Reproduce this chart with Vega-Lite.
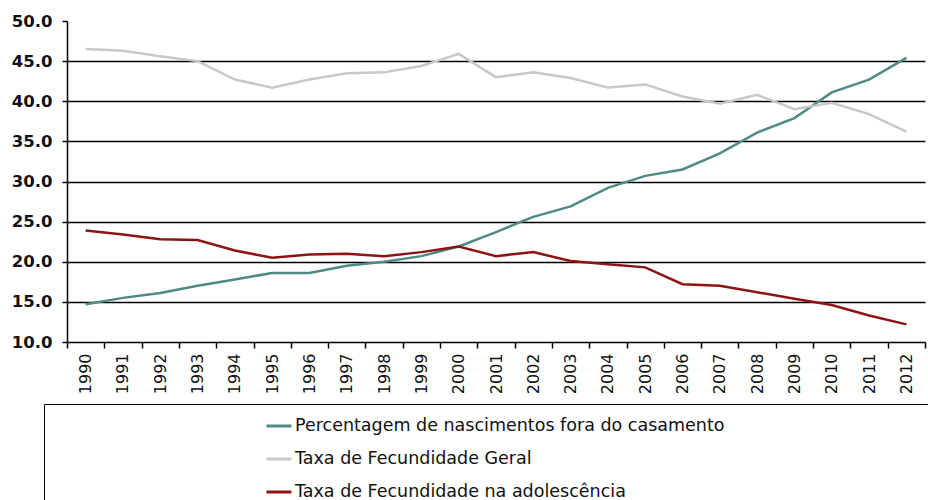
{
  "$schema": "https://vega.github.io/schema/vega-lite/v6.json",
  "width": 858,
  "height": 321,
  "autosize": {"type": "none"},
  "padding": {"left": 67, "top": 21, "right": 3, "bottom": 158},
  "background": "white",
  "config": {"view": {"stroke": null}, "font": "DejaVu Sans"},
  "datasets": {
    "d": [
      {"ano": "1990", "serie": "Percentagem de nascimentos fora do casamento", "valor": 14.7},
      {"ano": "1991", "serie": "Percentagem de nascimentos fora do casamento", "valor": 15.5},
      {"ano": "1992", "serie": "Percentagem de nascimentos fora do casamento", "valor": 16.1},
      {"ano": "1993", "serie": "Percentagem de nascimentos fora do casamento", "valor": 17.0},
      {"ano": "1994", "serie": "Percentagem de nascimentos fora do casamento", "valor": 17.8},
      {"ano": "1995", "serie": "Percentagem de nascimentos fora do casamento", "valor": 18.6},
      {"ano": "1996", "serie": "Percentagem de nascimentos fora do casamento", "valor": 18.6},
      {"ano": "1997", "serie": "Percentagem de nascimentos fora do casamento", "valor": 19.5},
      {"ano": "1998", "serie": "Percentagem de nascimentos fora do casamento", "valor": 20.0},
      {"ano": "1999", "serie": "Percentagem de nascimentos fora do casamento", "valor": 20.7},
      {"ano": "2000", "serie": "Percentagem de nascimentos fora do casamento", "valor": 21.9},
      {"ano": "2001", "serie": "Percentagem de nascimentos fora do casamento", "valor": 23.7},
      {"ano": "2002", "serie": "Percentagem de nascimentos fora do casamento", "valor": 25.6},
      {"ano": "2003", "serie": "Percentagem de nascimentos fora do casamento", "valor": 26.9},
      {"ano": "2004", "serie": "Percentagem de nascimentos fora do casamento", "valor": 29.2},
      {"ano": "2005", "serie": "Percentagem de nascimentos fora do casamento", "valor": 30.7},
      {"ano": "2006", "serie": "Percentagem de nascimentos fora do casamento", "valor": 31.5},
      {"ano": "2007", "serie": "Percentagem de nascimentos fora do casamento", "valor": 33.5},
      {"ano": "2008", "serie": "Percentagem de nascimentos fora do casamento", "valor": 36.1},
      {"ano": "2009", "serie": "Percentagem de nascimentos fora do casamento", "valor": 37.9},
      {"ano": "2010", "serie": "Percentagem de nascimentos fora do casamento", "valor": 41.1},
      {"ano": "2011", "serie": "Percentagem de nascimentos fora do casamento", "valor": 42.7},
      {"ano": "2012", "serie": "Percentagem de nascimentos fora do casamento", "valor": 45.4},
      {"ano": "1990", "serie": "Taxa de Fecundidade Geral", "valor": 46.5},
      {"ano": "1991", "serie": "Taxa de Fecundidade Geral", "valor": 46.3},
      {"ano": "1992", "serie": "Taxa de Fecundidade Geral", "valor": 45.6},
      {"ano": "1993", "serie": "Taxa de Fecundidade Geral", "valor": 45.0},
      {"ano": "1994", "serie": "Taxa de Fecundidade Geral", "valor": 42.7},
      {"ano": "1995", "serie": "Taxa de Fecundidade Geral", "valor": 41.7},
      {"ano": "1996", "serie": "Taxa de Fecundidade Geral", "valor": 42.7},
      {"ano": "1997", "serie": "Taxa de Fecundidade Geral", "valor": 43.5},
      {"ano": "1998", "serie": "Taxa de Fecundidade Geral", "valor": 43.6},
      {"ano": "1999", "serie": "Taxa de Fecundidade Geral", "valor": 44.4},
      {"ano": "2000", "serie": "Taxa de Fecundidade Geral", "valor": 45.9},
      {"ano": "2001", "serie": "Taxa de Fecundidade Geral", "valor": 43.0},
      {"ano": "2002", "serie": "Taxa de Fecundidade Geral", "valor": 43.6},
      {"ano": "2003", "serie": "Taxa de Fecundidade Geral", "valor": 42.9},
      {"ano": "2004", "serie": "Taxa de Fecundidade Geral", "valor": 41.7},
      {"ano": "2005", "serie": "Taxa de Fecundidade Geral", "valor": 42.1},
      {"ano": "2006", "serie": "Taxa de Fecundidade Geral", "valor": 40.6},
      {"ano": "2007", "serie": "Taxa de Fecundidade Geral", "valor": 39.7},
      {"ano": "2008", "serie": "Taxa de Fecundidade Geral", "valor": 40.8},
      {"ano": "2009", "serie": "Taxa de Fecundidade Geral", "valor": 39.0},
      {"ano": "2010", "serie": "Taxa de Fecundidade Geral", "valor": 39.8},
      {"ano": "2011", "serie": "Taxa de Fecundidade Geral", "valor": 38.4},
      {"ano": "2012", "serie": "Taxa de Fecundidade Geral", "valor": 36.2},
      {"ano": "1990", "serie": "Taxa de Fecundidade na adolescência", "valor": 23.9},
      {"ano": "1991", "serie": "Taxa de Fecundidade na adolescência", "valor": 23.4},
      {"ano": "1992", "serie": "Taxa de Fecundidade na adolescência", "valor": 22.8},
      {"ano": "1993", "serie": "Taxa de Fecundidade na adolescência", "valor": 22.7},
      {"ano": "1994", "serie": "Taxa de Fecundidade na adolescência", "valor": 21.4},
      {"ano": "1995", "serie": "Taxa de Fecundidade na adolescência", "valor": 20.5},
      {"ano": "1996", "serie": "Taxa de Fecundidade na adolescência", "valor": 20.9},
      {"ano": "1997", "serie": "Taxa de Fecundidade na adolescência", "valor": 21.0},
      {"ano": "1998", "serie": "Taxa de Fecundidade na adolescência", "valor": 20.7},
      {"ano": "1999", "serie": "Taxa de Fecundidade na adolescência", "valor": 21.2},
      {"ano": "2000", "serie": "Taxa de Fecundidade na adolescência", "valor": 21.9},
      {"ano": "2001", "serie": "Taxa de Fecundidade na adolescência", "valor": 20.7},
      {"ano": "2002", "serie": "Taxa de Fecundidade na adolescência", "valor": 21.2},
      {"ano": "2003", "serie": "Taxa de Fecundidade na adolescência", "valor": 20.1},
      {"ano": "2004", "serie": "Taxa de Fecundidade na adolescência", "valor": 19.7},
      {"ano": "2005", "serie": "Taxa de Fecundidade na adolescência", "valor": 19.3},
      {"ano": "2006", "serie": "Taxa de Fecundidade na adolescência", "valor": 17.2},
      {"ano": "2007", "serie": "Taxa de Fecundidade na adolescência", "valor": 17.0},
      {"ano": "2008", "serie": "Taxa de Fecundidade na adolescência", "valor": 16.2},
      {"ano": "2009", "serie": "Taxa de Fecundidade na adolescência", "valor": 15.4},
      {"ano": "2010", "serie": "Taxa de Fecundidade na adolescência", "valor": 14.6},
      {"ano": "2011", "serie": "Taxa de Fecundidade na adolescência", "valor": 13.3},
      {"ano": "2012", "serie": "Taxa de Fecundidade na adolescência", "valor": 12.2}
    ]
  },
  "data": {"name": "d"},
  "mark": {"type": "line", "strokeWidth": 2.5},
  "encoding": {
    "x": {
      "field": "ano",
      "type": "ordinal",
      "scale": {"type": "band", "paddingInner": 0, "paddingOuter": 0},
      "axis": {
        "title": null,
        "labelAngle": -90,
        "labelFontSize": 16,
        "labelColor": "#111",
        "tickBand": "extent",
        "domainColor": "black",
        "domainWidth": 1.5,
        "tickColor": "black",
        "tickWidth": 1.5,
        "tickSize": 6,
        "labelPadding": 5,
        "grid": false
      }
    },
    "y": {
      "field": "valor",
      "type": "quantitative",
      "scale": {"domain": [10, 50], "nice": false, "zero": false},
      "axis": {
        "title": null,
        "values": [10, 15, 20, 25, 30, 35, 40, 45, 50],
        "format": ".1f",
        "labelFontSize": 16.5,
        "labelFontWeight": "bold",
        "labelColor": "#111",
        "labelPadding": 10,
        "tickSize": 5,
        "tickColor": "black",
        "tickWidth": 1.5,
        "domainColor": "black",
        "domainWidth": 1.5,
        "grid": true,
        "gridColor": "black",
        "gridWidth": 1.5,
        "gridOpacity": {"condition": {"test": "datum.value >= 50 || datum.value <= 10", "value": 0}, "value": 1}
      }
    },
    "color": {
      "field": "serie",
      "type": "nominal",
      "scale": {
        "domain": ["Percentagem de nascimentos fora do casamento", "Taxa de Fecundidade Geral", "Taxa de Fecundidade na adolescência"],
        "range": ["#4f8a85", "#c8c8c8", "#8c1414"]
      },
      "legend": {
        "orient": "none",
        "legendX": -23,
        "legendY": 383,
        "title": null,
        "direction": "vertical",
        "strokeColor": "black",
        "padding": 8,
        "symbolType": "stroke",
        "symbolSize": 625,
        "symbolStrokeWidth": 3,
        "symbolOffset": 213,
        "labelOffset": 2,
        "labelFontSize": 17.5,
        "labelColor": "#111",
        "labelLimit": 3000,
        "labelExpr": "datum.label == 'Percentagem de nascimentos fora do casamento' ? datum.label + '\u2800\u2800\u2800\u2800\u2800\u2800\u2800\u2800\u2800\u2800\u2800\u2800\u2800\u2800\u2800\u2800\u2800\u2800\u2800\u2800\u2800\u2800\u2800\u2800' : datum.label",
        "rowPadding": 10
      }
    }
  }
}
